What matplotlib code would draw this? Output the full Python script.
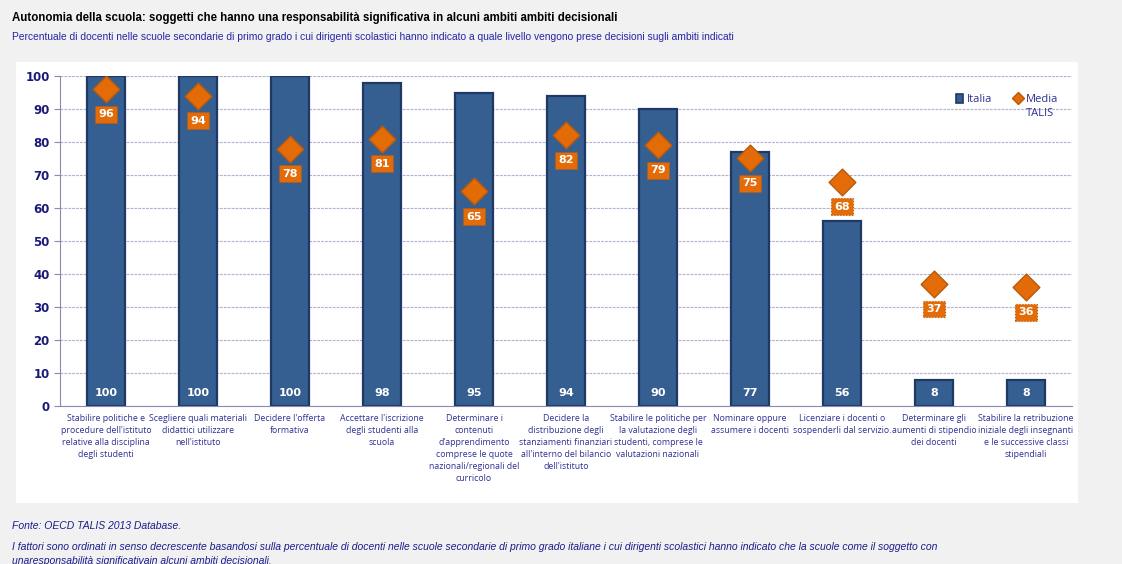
import matplotlib.pyplot as plt
from matplotlib.patches import Rectangle
from matplotlib.lines import Line2D

categorie = [
    "Stabilire politiche e\nprocedure dell'istituto\nrelative alla disciplina\ndegli studenti",
    "Scegliere quali materiali\ndidattici utilizzare\nnell'istituto",
    "Decidere l'offerta\nformativa",
    "Accettare l'iscrizione\ndegli studenti alla\nscuola",
    "Determinare i\ncontenuti\nd'apprendimento\ncomprese le quote\nnazionali/regionali del\ncurricolo",
    "Decidere la\ndistribuzione degli\nstanziamenti finanziari\nall'interno del bilancio\ndell'istituto",
    "Stabilire le politiche per\nla valutazione degli\nstudenti, comprese le\nvalutazioni nazionali",
    "Nominare oppure\nassumere i docenti",
    "Licenziare i docenti o\nsospenderli dal servizio.",
    "Determinare gli\naumenti di stipendio\ndei docenti",
    "Stabilire la retribuzione\niniziale degli insegnanti\ne le successive classi\nstipendiali",
]
italia = [100, 100, 100, 98, 95, 94, 90, 77, 56, 8, 8]
media_talis = [96, 94, 78, 81, 65, 82, 79, 75, 68, 37, 36]

BLU = "#365f91"
BLU_BORDO = "#1f3864"
ARANCIO = "#e36c09"
NAVY = "#1a1a7a"
TESTO_BLU = "#2e3192"

fig = plt.figure(figsize=(11.22, 5.64), dpi=100, facecolor="#f1f1f1")

# pannello bianco dietro al grafico
fig.patches.append(Rectangle((16 / 1122, 1 - 503 / 564), (1078 - 16) / 1122, (503 - 62) / 564,
                             transform=fig.transFigure, facecolor="white", edgecolor="none", zorder=-5))

ax = fig.add_axes([60 / 1122, 1 - 406 / 564, (1072 - 60) / 1122, 330 / 564])
ax.set_facecolor("none")
ax.set_zorder(1)

x = range(len(categorie))
ax.bar(x, italia, width=0.41, color=BLU, edgecolor=BLU_BORDO, linewidth=1.6, zorder=2)
for xi, v in zip(x, italia):
    ax.text(xi, 3.8, str(v), ha="center", va="center", color="white",
            fontsize=8, fontweight="bold", family="DejaVu Sans", zorder=3)

ax.scatter(x, media_talis, marker="D", s=185, color=ARANCIO, edgecolor="#b85a0c",
           linewidth=1, zorder=4)
for xi, v in zip(x, media_talis):
    ax.annotate(str(v), (xi, v), xytext=(0, -18), textcoords="offset points",
                ha="center", va="center", color="white", fontsize=8, fontweight="bold",
                family="DejaVu Sans", zorder=5,
                bbox=dict(boxstyle="square,pad=0.3", facecolor=ARANCIO,
                          edgecolor="#b85a0c", linestyle=":", linewidth=0.8))

ax.set_xlim(-0.5, len(categorie) - 0.5)
ax.set_ylim(0, 100)
ax.set_yticks(range(0, 101, 10))
ax.yaxis.grid(True, linestyle=(0, (2.5, 1)), color="#b3b0d0", linewidth=0.8, zorder=1)
ax.set_axisbelow(True)
ax.tick_params(axis="y", labelsize=8.5, labelcolor=NAVY, color="#8c89b3", length=4)
for lab in ax.get_yticklabels():
    lab.set_fontweight("bold")
ax.set_xticks(list(x))
ax.set_xticklabels(categorie, fontsize=6.3, color=TESTO_BLU, family="Open Sans")
for lab in ax.get_xticklabels():
    lab.set_linespacing(1.42)
ax.tick_params(axis="x", length=0, pad=6)
for s in ["top", "right"]:
    ax.spines[s].set_visible(False)
ax.spines["left"].set_color("#8c89b3")
ax.spines["bottom"].set_color("#8c89b3")

handles = [
    Rectangle((0, 0), 1, 1, facecolor=BLU, edgecolor=BLU_BORDO, linewidth=1.2),
    Line2D([], [], marker="D", linestyle="none", markersize=6, color=ARANCIO,
           markeredgecolor="#b85a0c"),
]
leg = ax.legend(handles, ["Italia", "Media"], ncol=2, loc="upper left",
                bbox_to_anchor=(0.885, 0.946), frameon=False, borderpad=0,
                borderaxespad=0, handlelength=0.7, handleheight=0.9,
                handletextpad=0.3, columnspacing=2.0,
                prop={"family": "Open Sans", "size": 8})
for t in leg.get_texts():
    t.set_color(TESTO_BLU)

fig.text(12 / 1122, 1 - 18 / 564,
         "Autonomia della scuola: soggetti che hanno una responsabilità significativa in alcuni ambiti ambiti decisionali",
         fontsize=8.3, fontweight="bold", color="black", va="center", family="Liberation Sans")
fig.text(12 / 1122, 1 - 37 / 564,
         "Percentuale di docenti nelle scuole secondarie di primo grado i cui dirigenti scolastici hanno indicato a quale livello vengono prese decisioni sugli ambiti indicati",
         fontsize=7.4, color="#2626a6", va="center", family="Liberation Sans")

note = dict(fontsize=7.5, color="#1c1c8c", style="italic", va="center",
            family=["Liberation Sans Narrow", "Liberation Sans"])
fig.text(12 / 1122, 1 - 526 / 564, "Fonte: OECD TALIS 2013 Database.", **note)
fig.text(12 / 1122, 1 - 547 / 564,
         "I fattori sono ordinati in senso decrescente basandosi sulla percentuale di docenti nelle scuole secondarie di primo grado italiane i cui dirigenti scolastici hanno indicato che la scuole come il soggetto con",
         **note)
fig.text(12 / 1122, 1 - 561 / 564,
         "unaresponsabilità significativain alcuni ambiti decisionali.", **note)

# seconda riga dell'etichetta "Media TALIS", sotto il testo della legenda
fig.canvas.draw()
bb = leg.get_texts()[1].get_window_extent().transformed(fig.transFigure.inverted())
fig.text(bb.x0, bb.y0 - 2.5 / 564, "TALIS", ha="left", va="top", color=TESTO_BLU,
         family="Open Sans", fontsize=8, zorder=5)

fig.savefig("out.png", dpi=100, facecolor=fig.get_facecolor())
